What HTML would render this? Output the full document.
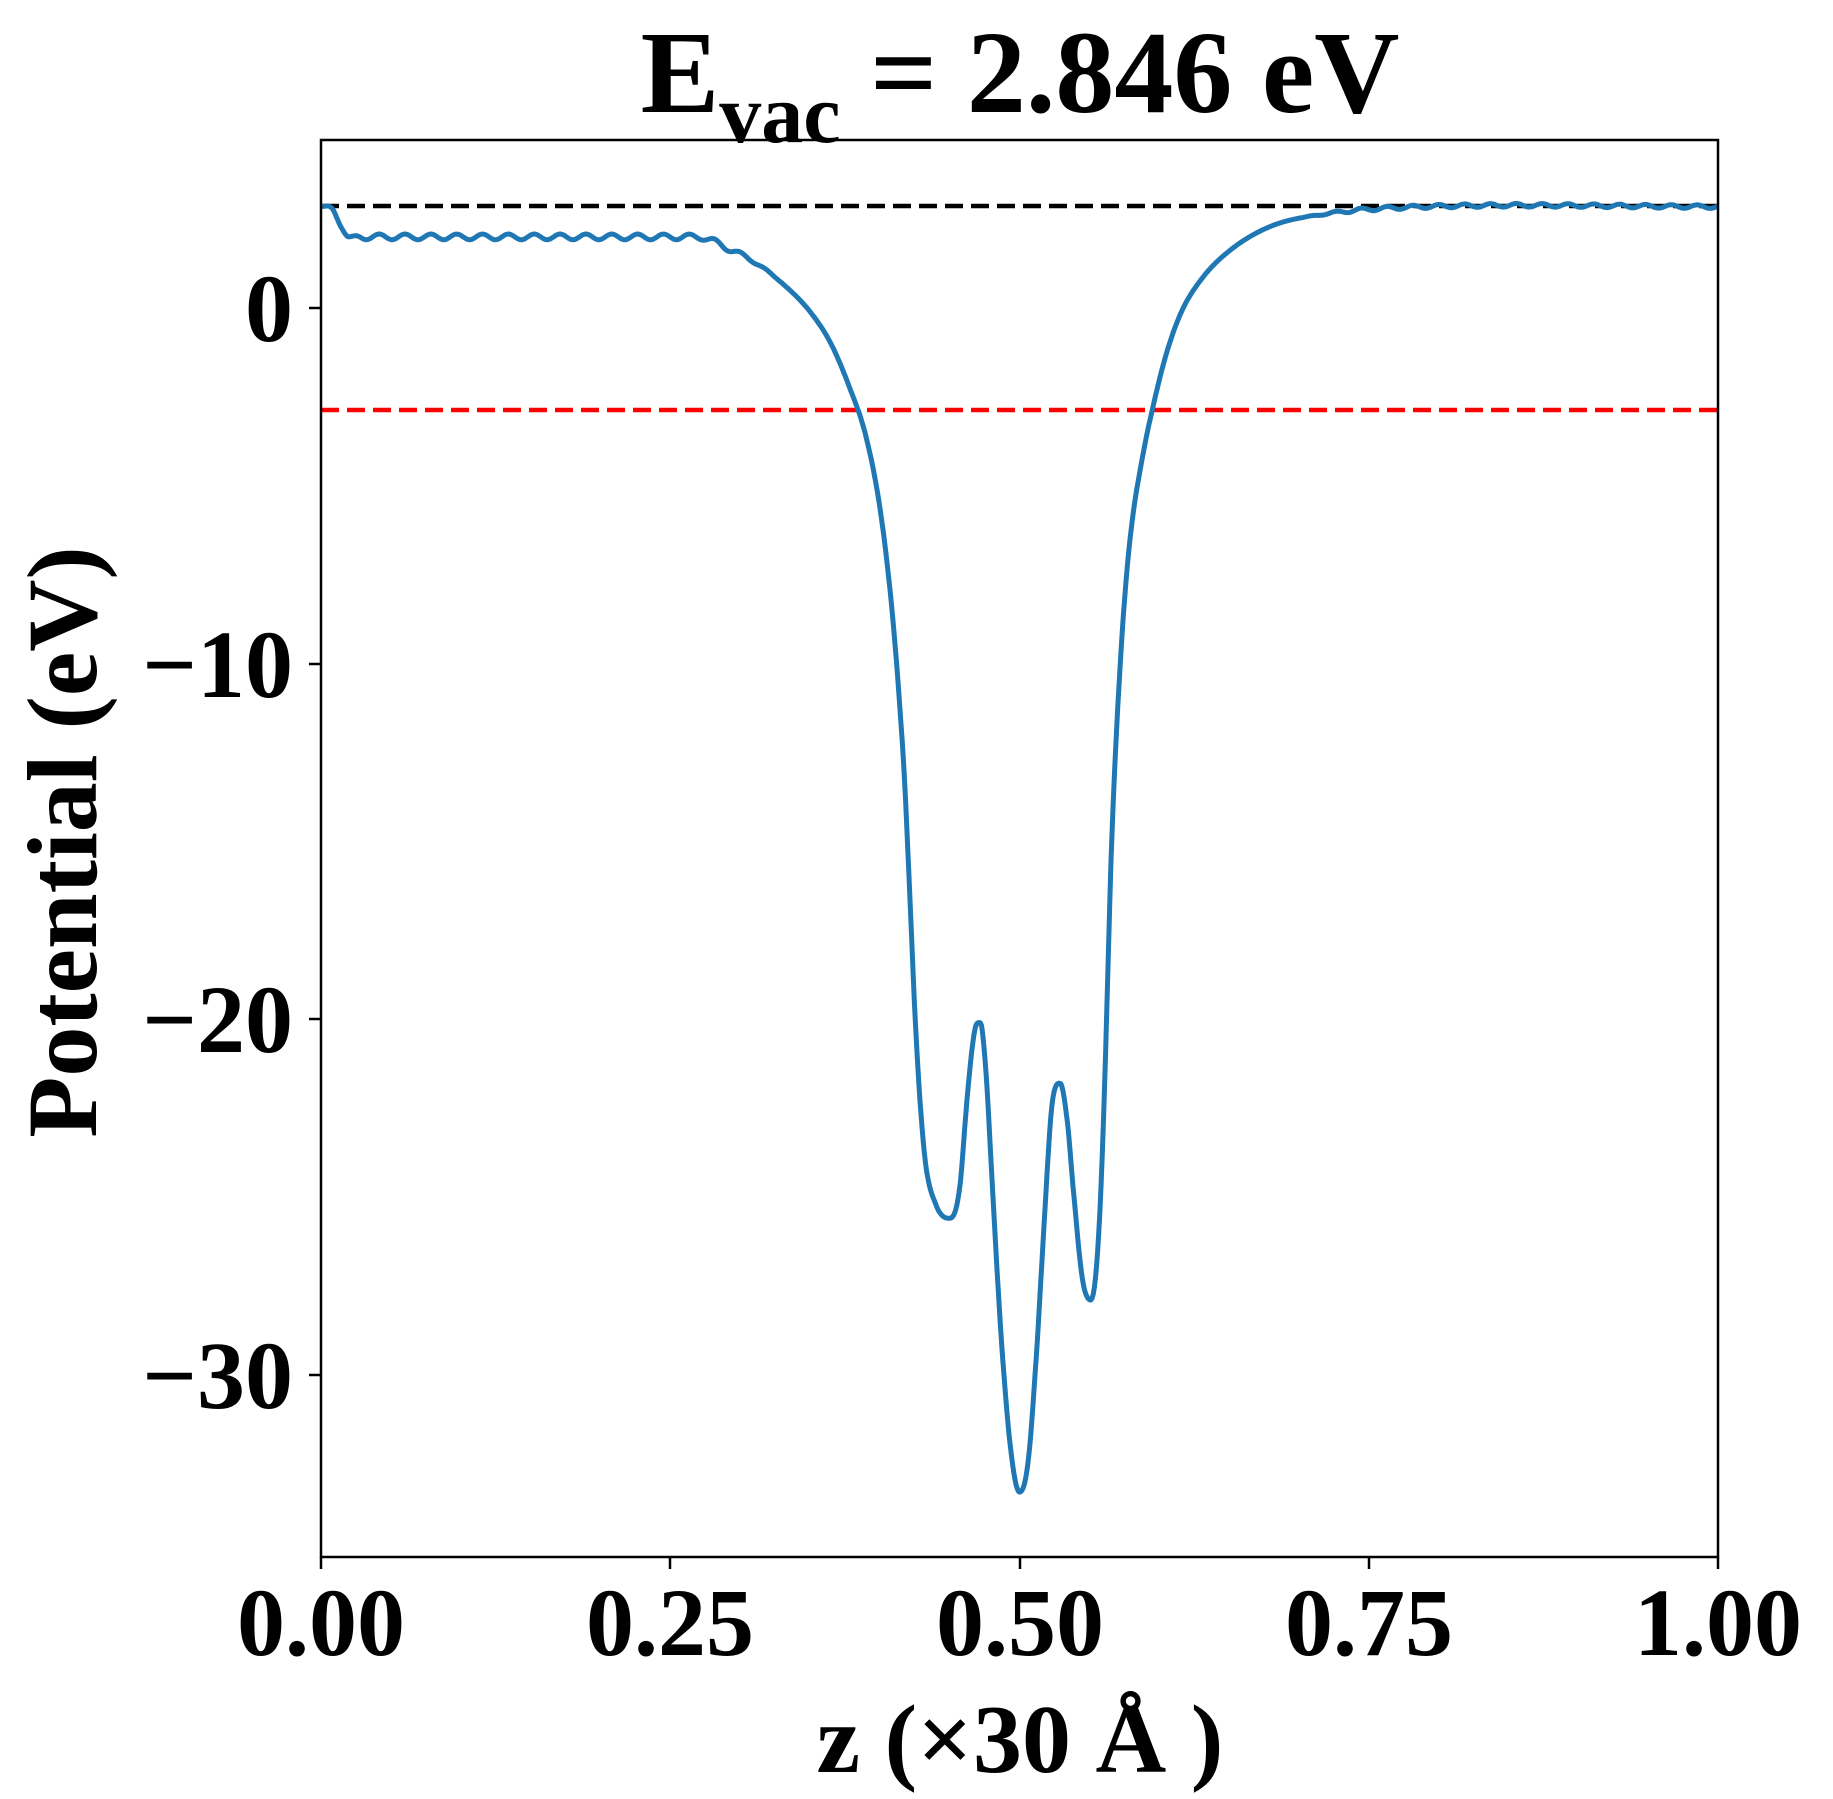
<!DOCTYPE html>
<html><head><meta charset="utf-8"><style>
body{margin:0;background:#fff}
</style></head><body>
<svg id="s" width="1833" height="1794" viewBox="0 0 1833 1794" xmlns="http://www.w3.org/2000/svg" font-family="'Liberation Serif', 'Times New Roman', serif" font-weight="bold">
<rect width="1833" height="1794" fill="#fff"/>
<text x="1020" y="112" font-size="118" text-anchor="middle">E<tspan font-size="84" dy="30">vac</tspan><tspan dy="-30"> = 2.846 eV</tspan></text>
<line x1="321" y1="206" x2="1718" y2="206" stroke="#000" stroke-width="4.5" stroke-dasharray="18,8"/>
<line x1="321" y1="410" x2="1718" y2="410" stroke="#f00" stroke-width="4.5" stroke-dasharray="18,8"/>
<path id="c" fill="none" stroke="#1f77b4" stroke-width="5" stroke-linejoin="round"/>
<rect x="321" y="140" width="1397" height="1417" fill="none" stroke="#000" stroke-width="2.5"/>
<g stroke="#000" stroke-width="2.5">
<line x1="309" y1="308" x2="321" y2="308"/><line x1="309" y1="664" x2="321" y2="664"/>
<line x1="309" y1="1019" x2="321" y2="1019"/><line x1="309" y1="1375" x2="321" y2="1375"/>
<line x1="321" y1="1557" x2="321" y2="1569"/><line x1="670" y1="1557" x2="670" y2="1569"/>
<line x1="1020" y1="1557" x2="1020" y2="1569"/><line x1="1369" y1="1557" x2="1369" y2="1569"/>
<line x1="1718" y1="1557" x2="1718" y2="1569"/>
</g>
<g font-size="96" text-anchor="end">
<text x="293" y="341">0</text><text x="293" y="697">−10</text>
<text x="293" y="1052">−20</text><text x="293" y="1408">−30</text>
</g>
<g font-size="96" text-anchor="middle">
<text x="321" y="1655">0.00</text><text x="670" y="1655">0.25</text>
<text x="1020" y="1655">0.50</text><text x="1369" y="1655">0.75</text>
<text x="1718" y="1655">1.00</text>
</g>
<text x="1020" y="1772" font-size="98" text-anchor="middle">z (×30 Å )</text>
<text transform="translate(96,842) rotate(-90)" font-size="100" text-anchor="middle">Potential (eV)</text>
</svg>
<script>
var P=[[0,2.85],[0.008,2.8],[0.014,2.3],[0.02,2.0],[0.27,2.0],[0.29,1.7],[0.31,1.3],[0.33,0.7],[0.35,-0.1],[0.365,-1.0],[0.378,-2.2],[0.39,-3.6],[0.4,-5.6],[0.408,-8.2],[0.413,-10.5],[0.418,-13.5],[0.422,-17],[0.426,-20.5],[0.432,-23.8],[0.44,-25.2],[0.45,-25.6],[0.457,-24.8],[0.463,-22],[0.468,-20.3],[0.472,-20.1],[0.476,-21.5],[0.481,-25],[0.487,-29],[0.494,-32.2],[0.5,-33.3],[0.506,-32.5],[0.512,-29.5],[0.518,-25.5],[0.523,-22.5],[0.529,-21.8],[0.534,-22.8],[0.539,-25],[0.545,-27.3],[0.551,-27.9],[0.556,-26.5],[0.56,-23],[0.563,-19],[0.566,-15],[0.57,-11.5],[0.575,-8.3],[0.58,-6.2],[0.588,-4.2],[0.596,-2.7],[0.605,-1.3],[0.616,-0.1],[0.63,0.8],[0.65,1.6],[0.68,2.3],[0.72,2.65],[0.77,2.82],[1,2.85]];
function X(z){return 321+1397*z}function Y(v){return 308-35.56*v}
var n=P.length,m=[];
for(var i=0;i<n;i++){
var s1=i>0?(P[i][1]-P[i-1][1])/(P[i][0]-P[i-1][0]):0,s2=i<n-1?(P[i+1][1]-P[i][1])/(P[i+1][0]-P[i][0]):0;
m.push(s1*s2<=0?0:(s1+s2)/2);}
var pts=[],k=0;
for(var z=0;z<=1.00001;z+=0.0008){while(k<n-2&&z>P[k+1][0])k++;
var h=P[k+1][0]-P[k][0],t=(z-P[k][0])/h,t2=t*t,t3=t2*t;
var v=(2*t3-3*t2+1)*P[k][1]+(t3-2*t2+t)*h*m[k]+(-2*t3+3*t2)*P[k+1][1]+(t3-t2)*h*m[k+1];
var w=0;
if(z>0.02&&z<0.33)w=0.08*Math.min(1,(z-0.02)/0.01)*Math.min(1,(0.33-z)/0.04);
if(z>0.70)w=0.05*Math.min(1,(z-0.70)/0.04);
v+=w*Math.sin(z*2*Math.PI/0.0185);
pts.push(X(z).toFixed(1)+","+Y(v).toFixed(1));}
document.getElementById("c").setAttribute("d","M"+pts.join(" L"));
</script>
</body></html>
